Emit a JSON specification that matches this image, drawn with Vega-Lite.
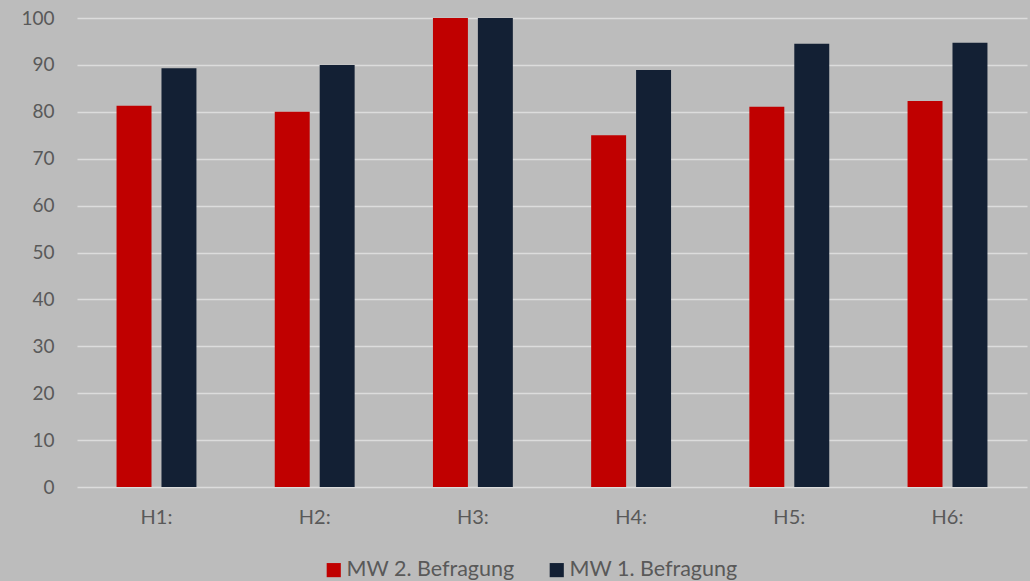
{
  "$schema": "https://vega.github.io/schema/vega-lite/v6.json",
  "width": 950,
  "height": 469,
  "autosize": "none",
  "padding": {"left": 77, "top": 18, "right": 3, "bottom": 94},
  "background": "#bcbcbc",
  "config": {
    "view": {"stroke": null},
    "font": "Lato",
    "axis": {"labelColor": "#595959", "labelFont": "Lato", "labelFontSize": 19}
  },
  "data": {
    "values": [
      {"h": "H1:", "serie": "MW 2. Befragung", "wert": 81.3},
      {"h": "H1:", "serie": "MW 1. Befragung", "wert": 89.3},
      {"h": "H2:", "serie": "MW 2. Befragung", "wert": 80.0},
      {"h": "H2:", "serie": "MW 1. Befragung", "wert": 90.0},
      {"h": "H3:", "serie": "MW 2. Befragung", "wert": 100},
      {"h": "H3:", "serie": "MW 1. Befragung", "wert": 100},
      {"h": "H4:", "serie": "MW 2. Befragung", "wert": 75.0},
      {"h": "H4:", "serie": "MW 1. Befragung", "wert": 88.9},
      {"h": "H5:", "serie": "MW 2. Befragung", "wert": 81.1},
      {"h": "H5:", "serie": "MW 1. Befragung", "wert": 94.5},
      {"h": "H6:", "serie": "MW 2. Befragung", "wert": 82.3},
      {"h": "H6:", "serie": "MW 1. Befragung", "wert": 94.7}
    ]
  },
  "mark": {"type": "bar"},
  "encoding": {
    "x": {
      "field": "h", "type": "nominal", "title": null,
      "scale": {"paddingInner": 0.495, "paddingOuter": 0.25},
      "axis": {"labelAngle": 0, "ticks": false, "domain": false, "labelPadding": 20, "grid": false, "labelFontSize": 20}
    },
    "xOffset": {
      "field": "serie", "type": "nominal",
      "sort": ["MW 2. Befragung", "MW 1. Befragung"],
      "scale": {"paddingInner": 0.222, "paddingOuter": 0}
    },
    "y": {
      "field": "wert", "type": "quantitative", "title": null,
      "scale": {"domain": [0, 100], "nice": false},
      "axis": {"values": [0,10,20,30,40,50,60,70,80,90,100], "ticks": false, "domain": false, "labelPadding": 23, "gridColor": "#dcdcdc", "gridWidth": 1.5}
    },
    "color": {
      "field": "serie", "type": "nominal",
      "sort": ["MW 2. Befragung", "MW 1. Befragung"],
      "scale": {"domain": ["MW 2. Befragung", "MW 1. Befragung"], "range": ["#c00000", "#132034"]},
      "legend": {
        "title": null, "orient": "none", "legendX": 246, "legendY": 541, "direction": "horizontal",
        "symbolType": "square", "symbolSize": 200, "symbolStrokeWidth": 0,
        "labelFontSize": 21.5, "labelLimit": 400, "labelColor": "#595959", "labelFont": "Lato",
        "columnPadding": 31, "symbolOffset": 0, "labelOffset": 2
      }
    }
  }
}
